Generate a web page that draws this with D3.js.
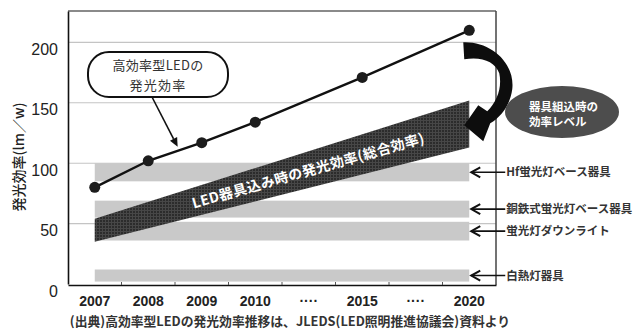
<!DOCTYPE html>
<html>
<head>
<meta charset="utf-8">
<script src="https://cdn.jsdelivr.net/npm/d3@7/dist/d3.min.js"></script>
<style>
  html, body { margin: 0; padding: 0; background: #fff; }
  svg { display: block; }
  text { font-family: "Liberation Sans", Arial, "Noto Sans CJK JP", sans-serif; }
  .jp { font-family: "Noto Sans CJK JP", "Liberation Sans", sans-serif; }
</style>
</head>
<body>
<svg id="chart" width="638" height="332"></svg>
<script>
// x slots (two "····" gaps stand for the skipped years)
const slots = ["2007", "2008", "2009", "2010", "gapA", "2015", "gapB", "2020"];
const slotLabels = ["2007", "2008", "2009", "2010", "····", "2015", "····", "2020"];

// y axis ticks
const yTicks = [0, 50, 100, 150, 200];

// high-efficiency LED luminous efficacy (lm/W)
const ledYears = ["2007", "2008", "2009", "2010", "2015", "2020"];
const ledEfficacy = [80, 102, 117, 134, 171, 210];

// LED fixture (total) efficacy band
const fixtureYears = ["2007", "2020"];
const fixtureLow = [35, 113];
const fixtureHigh = [54, 152];

// conventional fixture efficacy ranges
const conventionalNames = ["Hf蛍光灯ベース器具", "銅鉄式蛍光灯ベース器具", "蛍光灯ダウンライト", "白熱灯器具"];
const conventionalLow = [85, 55, 36, 2];
const conventionalHigh = [100, 69, 51.5, 12];

const svg = d3.select("#chart");
const plot = { left: 68, right: 496, top: 11, bottom: 284 };

const x = d3.scaleBand().domain(slots).range([plot.left, plot.right]).padding(0);
const cx = s => x(s) + x.bandwidth() / 2;
const y = d3.scaleLinear().domain([0, 226]).range([plot.bottom, plot.top]);

// texture for the LED fixture band
const defs = svg.append("defs");
const pat = defs.append("pattern").attr("id", "mesh")
  .attr("width", 3).attr("height", 3).attr("patternUnits", "userSpaceOnUse");
pat.append("rect").attr("width", 3).attr("height", 3).attr("fill", "#2c2c2c");
pat.append("path").attr("d", "M0,0.5H3M0.5,0V3").attr("stroke", "#474747").attr("stroke-width", 1);

// gridlines
svg.append("g").selectAll("line").data(yTicks.filter(d => d > 0)).join("line")
  .attr("x1", plot.left).attr("x2", plot.right)
  .attr("y1", d => y(d)).attr("y2", d => y(d))
  .attr("stroke", "#c4c4c4").attr("stroke-width", 1.1);

// conventional fixture ranges
const x0 = cx("2007"), x1 = cx("2020");
svg.append("g").selectAll("rect").data(conventionalNames).join("rect")
  .attr("x", x0).attr("width", x1 - x0)
  .attr("y", (d, i) => y(conventionalHigh[i]))
  .attr("height", (d, i) => y(conventionalLow[i]) - y(conventionalHigh[i]))
  .attr("fill", "#c9c9c9");

// LED fixture efficacy band
const bandData = fixtureYears.map((yr, i) => ({ yr, lo: fixtureLow[i], hi: fixtureHigh[i] }));
const area = d3.area().x(d => cx(d.yr)).y0(d => y(d.lo)).y1(d => y(d.hi));
svg.append("path").datum(bandData).attr("d", area).attr("fill", "url(#mesh)");

// label along the band
{
  const t = 0.57;
  const px = x0 + t * (x1 - x0);
  const midA = (y(fixtureLow[0]) + y(fixtureHigh[0])) / 2;
  const midB = (y(fixtureLow[1]) + y(fixtureHigh[1])) / 2;
  const py = midA + t * (midB - midA) + 1;
  const ang = Math.atan2(midB - midA, x1 - x0) * 180 / Math.PI;
  svg.append("text").attr("class", "jp")
    .attr("transform", `translate(${px},${py}) rotate(${ang})`)
    .attr("text-anchor", "middle").attr("dy", "0.36em")
    .attr("fill", "#fff").attr("font-size", 14).attr("font-weight", 700)
    .attr("letter-spacing", 0.4)
    .text("LED器具込み時の発光効率(総合効率)");
}

// LED efficacy line
const pts = ledYears.map((yr, i) => ({ yr, v: ledEfficacy[i] }));
svg.append("path").datum(pts)
  .attr("d", d3.line().x(d => cx(d.yr)).y(d => y(d.v)))
  .attr("fill", "none").attr("stroke", "#111").attr("stroke-width", 2.4);
svg.append("g").selectAll("circle").data(pts).join("circle")
  .attr("cx", d => cx(d.yr)).attr("cy", d => y(d.v)).attr("r", 5.5)
  .attr("fill", "#1c1c1c");

// frame
svg.append("line").attr("x1", plot.left).attr("x2", plot.right)
  .attr("y1", plot.top).attr("y2", plot.top).attr("stroke", "#8a8a8a").attr("stroke-width", 2);
svg.append("line").attr("x1", plot.right).attr("x2", plot.right)
  .attr("y1", plot.top).attr("y2", plot.bottom + 1).attr("stroke", "#444").attr("stroke-width", 1.5);

// y axis
const yAxis = svg.append("g").attr("transform", `translate(${plot.left},0)`)
  .call(d3.axisLeft(y).tickValues(yTicks).tickSize(0).tickPadding(10));
yAxis.select(".domain").attr("stroke", "#111").attr("stroke-width", 1.6);
yAxis.selectAll("text").attr("font-size", 16).attr("fill", "#222")
  .attr("dy", "0.75em").attr("font-family", "Liberation Sans, Arial, sans-serif");

// x axis with ticks at slot boundaries
const xAxis = svg.append("g").attr("transform", `translate(0,${plot.bottom + 1})`)
  .call(d3.axisBottom(x).tickSize(0).tickPadding(11).tickFormat((d, i) => slotLabels[i]));
xAxis.select(".domain").attr("stroke", "#111").attr("stroke-width", 1.6);
xAxis.selectAll("text").attr("font-size", 14).attr("font-weight", 700).attr("fill", "#222")
  .attr("font-family", "Liberation Sans, Arial, sans-serif");
svg.append("g").selectAll("line").data(slots.slice(1)).join("line")
  .attr("x1", d => x(d)).attr("x2", d => x(d))
  .attr("y1", plot.bottom + 1).attr("y2", plot.bottom - 2)
  .attr("stroke", "#555").attr("stroke-width", 1);

// y axis title
svg.append("text").attr("class", "jp")
  .attr("transform", `translate(19,157) rotate(-90)`)
  .attr("text-anchor", "middle").attr("dy", "0.35em")
  .attr("font-size", 14).attr("font-weight", 500).attr("fill", "#222")
  .text("発光効率(lm／w)");

// callout for the LED line
{
  const g = svg.append("g");
  g.append("rect").attr("x", 88).attr("y", 52).attr("width", 140).attr("height", 45)
    .attr("rx", 21).attr("fill", "#fff").attr("stroke", "#111").attr("stroke-width", 2);
  g.append("text").attr("class", "jp").attr("x", 158).attr("y", 65.5).attr("dy", "0.35em")
    .attr("text-anchor", "middle").attr("font-size", 13).attr("fill", "#333")
    .attr("letter-spacing", 0.3).text("高効率型LEDの");
  g.append("text").attr("class", "jp").attr("x", 158).attr("y", 85).attr("dy", "0.35em")
    .attr("text-anchor", "middle").attr("font-size", 13).attr("fill", "#333")
    .attr("letter-spacing", 1.2).text("発光効率");
  const a = cx("2008"), b = cx("2009");
  const tx = a + 0.55 * (b - a);
  const ty = y(ledEfficacy[1] + 0.55 * (ledEfficacy[2] - ledEfficacy[1])) - 4;
  const sx = 152, sy = 97;
  const ang = Math.atan2(ty - sy, tx - sx);
  const hl = 9, hw = 4;
  const bx = tx - hl * Math.cos(ang), by = ty - hl * Math.sin(ang);
  g.append("line").attr("x1", sx).attr("y1", sy).attr("x2", bx).attr("y2", by)
    .attr("stroke", "#111").attr("stroke-width", 1.6);
  g.append("path").attr("d",
    `M${tx},${ty}L${bx + hw * Math.sin(ang)},${by - hw * Math.cos(ang)}L${bx - hw * Math.sin(ang)},${by + hw * Math.cos(ang)}Z`)
    .attr("fill", "#111");
}

// curved arrow from the LED line down to the fixture band
{
  const ax = cx("2020"), ay = y(ledEfficacy[5]);
  const o = (dx, dy) => `${ax + dx},${ay + dy}`;
  svg.append("path").attr("d",
    `M${o(-6, 12)}C${o(22, 11)} ${o(46, 33)} ${o(43, 59)}` +
    `C${o(41, 75)} ${o(31, 87)} ${o(21, 93)}` +
    `L${o(14, 111)}L${o(-5, 95)}L${o(9, 75)}L${o(18, 81)}` +
    `C${o(28, 71)} ${o(33, 57)} ${o(30, 43)}` +
    `C${o(26, 31)} ${o(12, 26)} ${o(-5, 29)}Z`)
    .attr("fill", "#0d0d0d");
}

// ellipse note
svg.append("ellipse").attr("cx", 562).attr("cy", 112).attr("rx", 57).attr("ry", 26)
  .attr("fill", "#4d4d4d");
svg.append("text").attr("class", "jp").attr("x", 529).attr("y", 107).attr("dy", "0.35em")
  .attr("font-size", 11.5).attr("font-weight", 700).attr("fill", "#fff").text("器具組込時の");
svg.append("text").attr("class", "jp").attr("x", 529).attr("y", 122).attr("dy", "0.35em")
  .attr("font-size", 11.5).attr("font-weight", 700).attr("fill", "#fff").text("効率レベル");

// labels for conventional fixtures
const lab = svg.append("g").selectAll("g").data(conventionalNames).join("g")
  .attr("transform", (d, i) => `translate(0,${y((conventionalLow[i] + conventionalHigh[i]) / 2)})`);
lab.append("line").attr("x1", x1 + 2).attr("x2", x1 + 36).attr("stroke", "#111").attr("stroke-width", 1.6);
lab.append("path").attr("d", `M${x1 + 11},-5L${x1 + 2},0L${x1 + 11},5`)
  .attr("fill", "none").attr("stroke", "#111").attr("stroke-width", 2);
lab.append("text").attr("class", "jp").attr("x", x1 + 37).attr("dy", "0.35em")
  .attr("font-size", 11.5).attr("font-weight", 700).attr("fill", "#333").text(d => d);

// source note
svg.append("text").attr("class", "jp").attr("x", 290).attr("y", 322).attr("dy", "0.35em")
  .attr("text-anchor", "middle").attr("font-size", 12.8).attr("font-weight", 700).attr("fill", "#333")
  .text("(出典)高効率型LEDの発光効率推移は、JLEDS(LED照明推進協議会)資料より");
</script>
</body>
</html>
